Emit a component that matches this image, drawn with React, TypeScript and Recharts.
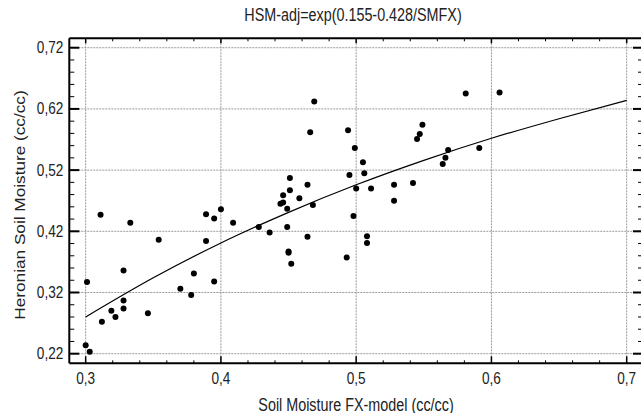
import React from "react";
import {
  ComposedChart,
  Scatter,
  Line,
  XAxis,
  YAxis,
  ReferenceLine,
} from "recharts";

// observed points: Soil Moisture FX-model (x) vs Heronian Soil Moisture (y)
const smFx = [
  0.311, 0.333, 0.301, 0.328, 0.312, 0.319, 0.322, 0.328, 0.328, 0.3, 0.303,
  0.346, 0.354, 0.37, 0.378, 0.38, 0.395, 0.389, 0.395, 0.4, 0.389, 0.409,
  0.428, 0.436, 0.444, 0.446, 0.446, 0.451, 0.451, 0.449, 0.449, 0.458, 0.464,
  0.468, 0.464, 0.45, 0.45, 0.452, 0.493, 0.498, 0.495, 0.5, 0.505, 0.506,
  0.511, 0.508, 0.508, 0.528, 0.528, 0.542, 0.564, 0.469, 0.466, 0.494, 0.499,
  0.545, 0.547, 0.549, 0.566, 0.568, 0.581, 0.606, 0.591,
];
const hsm = [
  0.447, 0.434, 0.337, 0.356, 0.272, 0.29, 0.28, 0.307, 0.294, 0.234, 0.223,
  0.286, 0.406, 0.326, 0.316, 0.351, 0.338, 0.448, 0.441, 0.456, 0.404, 0.434,
  0.427, 0.418, 0.465, 0.467, 0.479, 0.507, 0.487, 0.457, 0.427, 0.474, 0.496,
  0.463, 0.411, 0.387, 0.385, 0.367, 0.377, 0.445, 0.512, 0.49, 0.533, 0.515,
  0.49, 0.412, 0.401, 0.496, 0.47, 0.499, 0.53, 0.632, 0.582, 0.585, 0.556,
  0.571, 0.579, 0.594, 0.54, 0.553, 0.645, 0.647, 0.556,
];

// fitted curve
const curveX = [0.3, 0.35, 0.4, 0.45, 0.5, 0.55, 0.6, 0.65, 0.7];
const curveY = [0.28, 0.344, 0.401, 0.451, 0.496, 0.536, 0.572, 0.604, 0.634];

const xTicks = [
  0.3, 0.32, 0.34, 0.36, 0.38, 0.4, 0.42, 0.44, 0.46, 0.48, 0.5, 0.52, 0.54,
  0.56, 0.58, 0.6, 0.62, 0.64, 0.66, 0.68, 0.7,
];
const xMajor = [0.3, 0.4, 0.5, 0.6, 0.7];
const yTicks = [
  0.22, 0.24, 0.26, 0.28, 0.3, 0.32, 0.34, 0.36, 0.38, 0.4, 0.42, 0.44, 0.46,
  0.48, 0.5, 0.52, 0.54, 0.56, 0.58, 0.6, 0.62, 0.64, 0.66, 0.68, 0.7, 0.72,
];
const yMajor = [0.22, 0.32, 0.42, 0.52, 0.62, 0.72];

const points = smFx.map((x, i) => ({ x, y: hsm[i] }));
const curve = curveX.map((x, i) => ({ x, y: curveY[i] }));

const FONT = "'Liberation Sans', Arial, sans-serif";
const W = 650; // plot frame runs a few px past the visible right edge
const H = 413;
const LEFT = 69.3;
const TOP = 38.3;
const BOTTOM = 363.3;
const RIGHT = 644;

const isMajor = (v: number, list: number[]) =>
  list.some((m) => Math.abs(m - v) < 1e-6);
const comma = (v: number, d: number) => v.toFixed(d).replace(".", ",");

const BottomTick = (props: any) => {
  const { x, payload } = props;
  const major = isMajor(payload.value, xMajor);
  return (
    <g>
      <line
        x1={x}
        x2={x}
        y1={BOTTOM}
        y2={BOTTOM - (major ? 7 : 3)}
        stroke="#000"
        strokeWidth={major ? 1.5 : 1}
      />
      {major && (
        <text
          transform={`translate(${x} 384) scale(0.85 1)`}
          textAnchor="middle"
          fontFamily={FONT}
          fontSize={16}
          fill="#222"
        >
          {comma(payload.value, 1)}
        </text>
      )}
    </g>
  );
};

const TopTick = (props: any) => {
  const { x, payload } = props;
  const major = isMajor(payload.value, xMajor);
  return (
    <line
      x1={x}
      x2={x}
      y1={TOP}
      y2={TOP + (major ? 5 : 3)}
      stroke="#000"
      strokeWidth={major ? 1.5 : 1}
    />
  );
};

const LeftTick = (props: any) => {
  const { y, payload } = props;
  const major = isMajor(payload.value, yMajor);
  return (
    <g>
      <line
        x1={LEFT}
        x2={LEFT + (major ? 10 : 5)}
        y1={y}
        y2={y}
        stroke="#000"
        strokeWidth={major ? 2 : 1}
      />
      {major && (
        <text
          transform={`translate(63.3 ${y + 5.5}) scale(0.85 1)`}
          textAnchor="end"
          fontFamily={FONT}
          fontSize={16}
          fill="#222"
        >
          {comma(payload.value, 2)}
        </text>
      )}
    </g>
  );
};

const RightTick = (props: any) => {
  const { y, payload } = props;
  const major = isMajor(payload.value, yMajor);
  return (
    <line
      x1={RIGHT}
      x2={RIGHT - (major ? 11 : 6)}
      y1={y}
      y2={y}
      stroke="#000"
      strokeWidth={major ? 2 : 1}
    />
  );
};

const Dot = (props: any) => <circle cx={props.cx} cy={props.cy} r={3} fill="#000" />;

const xDomain = [0.2879, 0.7128];
const yDomain = [0.2043, 0.7354];

export default function App() {
  return (
    <div
      style={{
        position: "absolute",
        left: 0,
        top: 0,
        width: 641,
        height: H,
        overflow: "hidden",
        background: "#fff",
      }}
    >
      <svg
        width={641}
        height={H}
        style={{ position: "absolute", left: 0, top: 0, pointerEvents: "none" }}
      >
        <text
          transform="translate(353 21) scale(0.82 1)"
          textAnchor="middle"
          fontFamily={FONT}
          fontSize={17.5}
          fill="#222"
        >
          HSM-adj=exp(0.155-0.428/SMFX)
        </text>
        <text
          transform="translate(356 411) scale(0.82 1)"
          textAnchor="middle"
          fontFamily={FONT}
          fontSize={17.5}
          fill="#222"
        >
          Soil Moisture FX-model (cc/cc)
        </text>
        <text
          transform="translate(25 205) scale(0.82 1) rotate(-90)"
          textAnchor="middle"
          fontFamily={FONT}
          fontSize={17.2}
          fill="#222"
        >
          Heronian Soil Moisture (cc/cc)
        </text>
      </svg>
      <ComposedChart
        width={W}
        height={H}
        margin={{ top: 0, right: 0, bottom: 0, left: 0 }}
        style={{ position: "absolute", left: 0, top: 0 }}
      >
        <XAxis
          xAxisId="x"
          dataKey="x"
          type="number"
          domain={xDomain}
          allowDataOverflow
          ticks={xTicks}
          interval={0}
          height={H - BOTTOM}
          tickLine={false}
          tick={<BottomTick />}
          axisLine={{ stroke: "#000", strokeWidth: 2 }}
        />
        <XAxis
          xAxisId="top"
          orientation="top"
          dataKey="x"
          type="number"
          domain={xDomain}
          allowDataOverflow
          ticks={xTicks}
          interval={0}
          height={TOP}
          tickLine={false}
          tick={<TopTick />}
          axisLine={{ stroke: "#000", strokeWidth: 2 }}
        />
        <YAxis
          yAxisId="y"
          dataKey="y"
          type="number"
          domain={yDomain}
          allowDataOverflow
          ticks={yTicks}
          interval={0}
          width={LEFT}
          tickLine={false}
          tick={<LeftTick />}
          axisLine={{ stroke: "#000", strokeWidth: 2 }}
        />
        <YAxis
          yAxisId="right"
          orientation="right"
          dataKey="y"
          type="number"
          domain={yDomain}
          allowDataOverflow
          ticks={yTicks}
          interval={0}
          width={W - RIGHT}
          tickLine={false}
          tick={<RightTick />}
          axisLine={{ stroke: "#000", strokeWidth: 2 }}
        />
        {xMajor.map((v) => (
          <ReferenceLine
            key={"gx" + v}
            x={v}
            xAxisId="x"
            yAxisId="y"
            stroke="#9a9a9a"
            strokeDasharray="2 1"
          />
        ))}
        {yMajor.map((v) => (
          <ReferenceLine
            key={"gy" + v}
            y={v}
            xAxisId="x"
            yAxisId="y"
            stroke="#9a9a9a"
            strokeDasharray="2 1"
          />
        ))}
        <Line
          data={curve}
          dataKey="y"
          xAxisId="x"
          yAxisId="y"
          type="monotone"
          stroke="#000"
          strokeWidth={1.2}
          dot={false}
          isAnimationActive={false}
        />
        <Scatter
          data={points}
          dataKey="y"
          xAxisId="x"
          yAxisId="y"
          shape={<Dot />}
          isAnimationActive={false}
        />
      </ComposedChart>
    </div>
  );
}
